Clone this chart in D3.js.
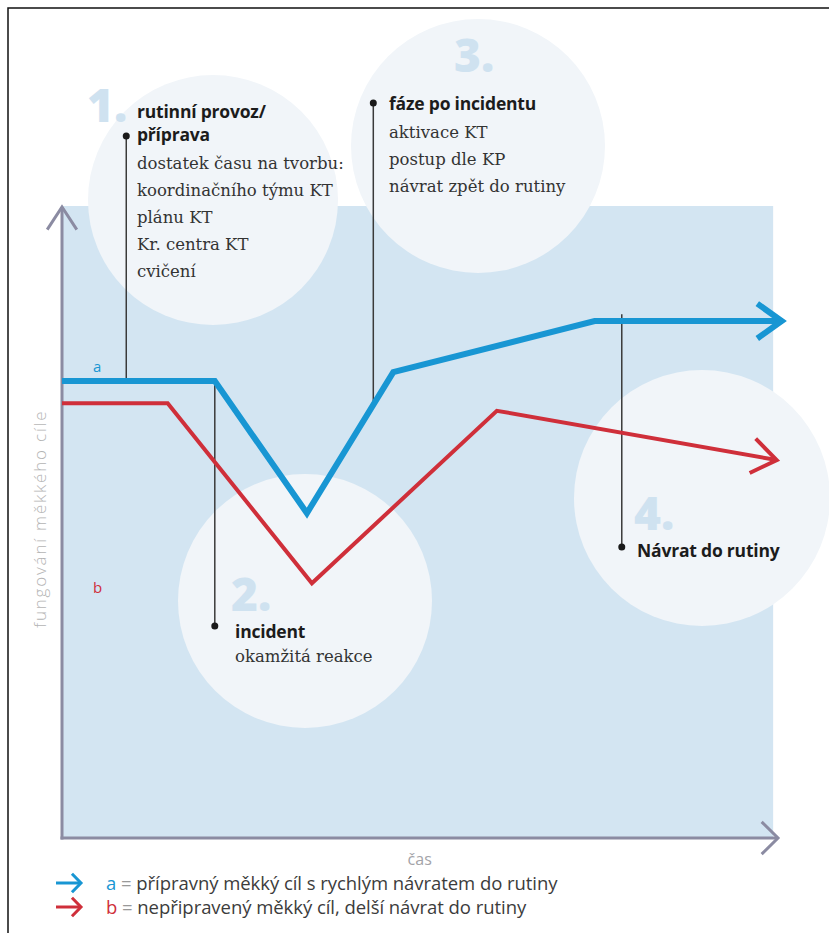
<!DOCTYPE html>
<html>
<head>
<meta charset="utf-8">
<script src="https://cdn.jsdelivr.net/npm/d3@7"></script>
<style>
  body { margin: 0; background: #fff; }
  svg { display: block; }
</style>
</head>
<body>
<div id="chart"></div>
<script>
// series a: prepared soft target, series b: unprepared soft target
var timeA  = [0, 21.4, 34.3, 46.4, 74.6, 100.8];
var valueA = [72.3, 72.3, 51.4, 73.7, 81.8, 81.8];
var timeB  = [0, 14.8, 35.0, 60.9, 100.1];
var valueB = [68.8, 68.8, 40.3, 67.6, 59.8];

var phaseNumbers = ["1.", "2.", "3.", "4."];
var phaseTitles = [["rutinní provoz/", "příprava"], ["incident"], ["fáze po incidentu"], ["Návrat do rutiny"]];
var phaseNotes = [
  ["dostatek času na tvorbu:", "koordinačního týmu KT", "plánu KT", "Kr. centra KT", "cvičení"],
  ["okamžitá reakce"],
  ["aktivace KT", "postup dle KP", "návrat zpět do rutiny"],
  []
];
var phaseTime = [9.0, 21.4, 43.6, 78.4];

var legendKeys = ["a", "b"];
var legendTexts = ["přípravný měkký cíl s rychlým návratem do rutiny", "nepřipravený měkký cíl, delší návrat do rutiny"];
var axisLabelY = "fungování měkkého cíle";
var axisLabelX = "čas";

var width = 829, height = 933;
var blue = "#1896d3", red = "#cf2f3a", axisColor = "#8b8ba2";

// layout of the annotation bubbles (pixels)
var bubbles = [
  { cx: 213, cy: 200, r: 125, numX: 87,  numY: 122, tx: 137, ty: 118, dotY: 136 },
  { cx: 305, cy: 601, r: 127, numX: 231, numY: 611, tx: 235, ty: 638, dotY: 626 },
  { cx: 478, cy: 146, r: 127, numX: 454, numY: 72,  tx: 389, ty: 110, dotY: 103 },
  { cx: 702, cy: 498, r: 128, numX: 634, numY: 530, tx: 637, ty: 557, dotY: 547 }
];

var svg = d3.select("#chart").append("svg")
  .attr("width", width)
  .attr("height", height);

var x = d3.scaleLinear().domain([0, 100]).range([62, 776]);
var y = d3.scaleLinear().domain([0, 100]).range([838, 206]);

// frame
svg.append("rect")
  .attr("x", 8).attr("y", 8)
  .attr("width", 900).attr("height", 1000)
  .attr("fill", "none")
  .attr("stroke", "#111")
  .attr("stroke-width", 1.5);

// plot background
svg.append("rect")
  .attr("x", x(0)).attr("y", y(100))
  .attr("width", x(99.6) - x(0))
  .attr("height", y(0) - y(100))
  .attr("fill", "#d3e5f2");

// bubbles
svg.selectAll(".bubble").data(bubbles).enter()
  .append("circle")
  .attr("class", "bubble")
  .attr("cx", d => d.cx).attr("cy", d => d.cy).attr("r", d => d.r)
  .attr("fill", "#f1f5f9");

svg.selectAll(".phaseNum").data(bubbles).enter()
  .append("text")
  .attr("class", "phaseNum")
  .attr("x", d => d.numX).attr("y", d => d.numY)
  .attr("font-family", "'Open Sans', sans-serif")
  .attr("font-weight", 800)
  .attr("font-size", 46)
  .attr("fill", "#cfe2f0")
  .text((d, i) => phaseNumbers[i]);

// axes
function chevron(tipX, tipY, angle, len, spread) {
  var a1 = angle + Math.PI - spread, a2 = angle + Math.PI + spread;
  return "M" + (tipX + len * Math.cos(a1)) + "," + (tipY + len * Math.sin(a1)) +
    "L" + tipX + "," + tipY +
    "L" + (tipX + len * Math.cos(a2)) + "," + (tipY + len * Math.sin(a2));
}

svg.append("line")
  .attr("x1", x(0)).attr("y1", y(0) + 1.5)
  .attr("x2", x(0)).attr("y2", y(100) + 1)
  .attr("stroke", axisColor).attr("stroke-width", 3);
svg.append("path")
  .attr("d", chevron(x(0), y(100) + 1, -Math.PI / 2, 27, 0.58))
  .attr("fill", "none").attr("stroke", axisColor).attr("stroke-width", 3);

svg.append("line")
  .attr("x1", x(0) - 1.5).attr("y1", y(0))
  .attr("x2", x(100) + 2).attr("y2", y(0))
  .attr("stroke", axisColor).attr("stroke-width", 3);
svg.append("path")
  .attr("d", chevron(x(100) + 2, y(0), 0, 23, 0.78))
  .attr("fill", "none").attr("stroke", axisColor).attr("stroke-width", 3);

svg.append("text")
  .attr("transform", "translate(46," + y(50.5) + ") rotate(-90)")
  .attr("text-anchor", "middle")
  .attr("font-family", "'Open Sans', sans-serif")
  .attr("font-weight", 300)
  .attr("font-size", 17)
  .attr("letter-spacing", 1.8)
  .attr("fill", "#b4b4b4")
  .text(axisLabelY);

svg.append("text")
  .attr("x", x(50.1)).attr("y", 865)
  .attr("text-anchor", "middle")
  .attr("font-family", "'Open Sans', sans-serif")
  .attr("font-size", 16)
  .attr("fill", "#a3a3a8")
  .text(axisLabelX);

// leader lines: between dot and series a
var lineA = d3.scaleLinear().domain(timeA.slice(0, 5)).range(valueA.slice(0, 5));
phaseTime.forEach(function(t, i) {
  var b = bubbles[i];
  var px = x(t);
  var lineY = y(lineA(t));
  svg.append("line")
    .attr("x1", px).attr("y1", b.dotY)
    .attr("x2", px).attr("y2", lineY)
    .attr("stroke", "#3a3a3a").attr("stroke-width", 1.5);
  svg.append("circle")
    .attr("cx", px).attr("cy", b.dotY).attr("r", 3.5)
    .attr("fill", "#1a1a1a");
});

// series
var line = d3.line().x(d => x(d[0])).y(d => y(d[1]));

function drawSeries(times, values, color, w) {
  var pts = d3.zip(times, values);
  svg.append("path")
    .attr("d", line(pts))
    .attr("fill", "none")
    .attr("stroke", color)
    .attr("stroke-width", w)
    .attr("stroke-linejoin", "miter");
  var p1 = pts[pts.length - 2], p2 = pts[pts.length - 1];
  var ang = Math.atan2(y(p2[1]) - y(p1[1]), x(p2[0]) - x(p1[0]));
  svg.append("path")
    .attr("d", chevron(x(p2[0]), y(p2[1]), ang, 30, 0.62))
    .attr("fill", "none")
    .attr("stroke", color)
    .attr("stroke-width", w)
    .attr("stroke-linejoin", "miter");
}
drawSeries(timeA, valueA, blue, 6);
drawSeries(timeB, valueB, red, 4);

// series keys in plot
svg.append("text").attr("x", 93).attr("y", y(valueA[0]) - 9)
  .attr("font-family", "'Open Sans', sans-serif").attr("font-size", 15)
  .attr("fill", blue).text(legendKeys[0]);
svg.append("text").attr("x", 93).attr("y", 593)
  .attr("font-family", "'Open Sans', sans-serif").attr("font-size", 15)
  .attr("fill", red).text(legendKeys[1]);

// phase texts
bubbles.forEach(function(b, i) {
  var yy = b.ty;
  phaseTitles[i].forEach(function(t, j) {
    svg.append("text")
      .attr("x", b.tx).attr("y", yy + j * 23)
      .attr("font-family", "'Open Sans', sans-serif")
      .attr("font-weight", 700)
      .attr("font-size", 17.5)
      .attr("letter-spacing", -0.2)
      .attr("fill", "#1c1c1c")
      .text(t);
  });
  var noteStart = yy + (phaseTitles[i].length - 1) * 23 + (i === 1 ? 24 : 28);
  phaseNotes[i].forEach(function(t, j) {
    svg.append("text")
      .attr("x", b.tx).attr("y", noteStart + j * 27)
      .attr("font-family", "'DejaVu Serif', serif")
      .attr("font-size", 16.5)
      .attr("fill", "#333")
      .text(t);
  });
});

// legend
var legend = svg.append("g");
[blue, red].forEach(function(c, i) {
  var ly = 883 + i * 24;
  legend.append("line")
    .attr("x1", 56).attr("y1", ly).attr("x2", 80).attr("y2", ly)
    .attr("stroke", c).attr("stroke-width", 3);
  legend.append("path")
    .attr("d", chevron(81, ly, 0, 13, 0.8))
    .attr("fill", "none").attr("stroke", c).attr("stroke-width", 3);
  var t = legend.append("text")
    .attr("x", 106).attr("y", ly + 7)
    .attr("font-family", "'Open Sans', sans-serif")
    .attr("font-size", 18.5)
    .attr("letter-spacing", -0.05);
  t.append("tspan").attr("fill", c).text(legendKeys[i]);
  t.append("tspan").attr("fill", "#999").text(" = ");
  t.append("tspan").attr("fill", "#3c3c3c").text(legendTexts[i]);
});
</script>
</body>
</html>
